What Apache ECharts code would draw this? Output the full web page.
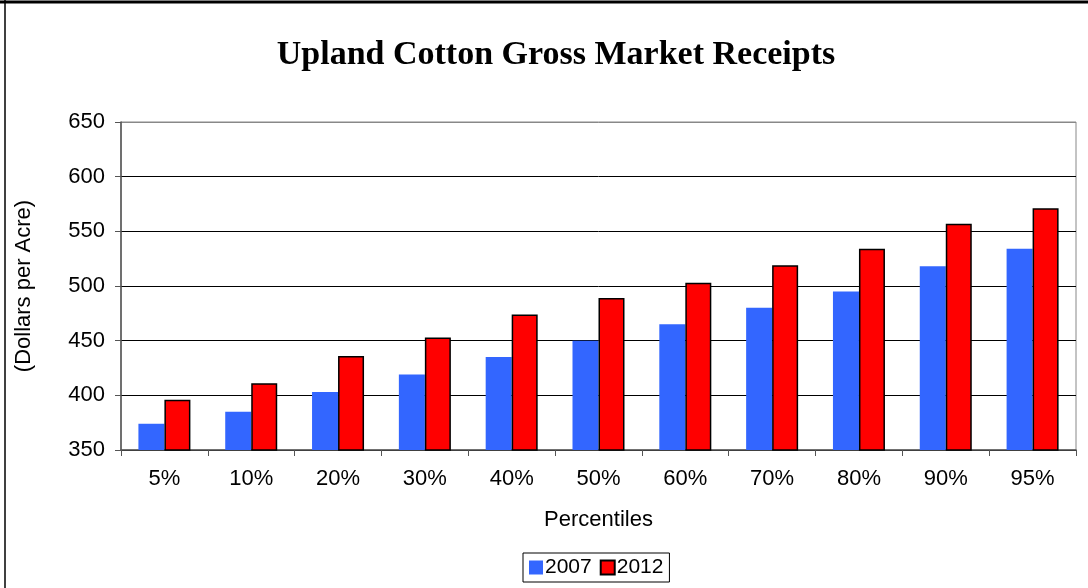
<!DOCTYPE html>
<html>
<head>
<meta charset="utf-8">
<script src="https://cdn.jsdelivr.net/npm/echarts@6/dist/echarts.min.js"></script>
<style>
html,body{margin:0;padding:0;background:#fff;}
#chart{width:1088px;height:588px;}
</style>
</head>
<body>
<div id="chart"></div>
<script>
const categories = ['5%','10%','20%','30%','40%','50%','60%','70%','80%','90%','95%'];
const values2007 = [374, 385, 403, 419, 435, 450, 465, 480, 495, 518, 534];
const values2012 = [396, 411, 436, 453, 474, 489, 503, 519, 534, 557, 571];
const yTicks = { min: 350, max: 650, interval: 50 };

const chart = echarts.init(document.getElementById('chart'), null, {renderer: 'canvas'});
const sans = 'Liberation Sans, Arial, sans-serif';
chart.setOption({
  animation: false,
  backgroundColor: '#fff',
  title: {
    text: 'Upland Cotton Gross Market Receipts',
    left: 551, top: 33, textAlign: 'center',
    textStyle: { fontFamily: 'Liberation Serif, Times New Roman, serif', fontWeight: 'bold', fontSize: 34, color: '#000' }
  },
  graphic: [
    { type: 'line', shape: { x1: 0, y1: 2, x2: 1088, y2: 2 }, style: { stroke: '#000', lineWidth: 3 } },
    { type: 'line', shape: { x1: 5, y1: 0, x2: 5, y2: 588 }, style: { stroke: '#000', lineWidth: 1.5 } }
  ],
  legend: {
    data: ['2007', '2012'],
    left: 523, top: 553,
    orient: 'horizontal',
    itemWidth: 14, itemHeight: 14, itemGap: 8,
    padding: [4, 6, 4, 6],
    borderColor: '#000', borderWidth: 1,
    textStyle: { fontFamily: sans, fontSize: 21, color: '#000', padding: [0, 0, 0, -3] },
    icon: 'rect'
  },
  grid: { left: 121, right: 12, top: 122, bottom: 138, show: true, borderColor: '#888', borderWidth: 1, containLabel: false },
  xAxis: {
    type: 'category',
    data: categories,
    name: 'Percentiles',
    nameLocation: 'middle',
    nameGap: 59,
    nameTextStyle: { fontFamily: sans, fontSize: 22, color: '#000' },
    axisLine: { lineStyle: { color: '#555', width: 1.5 } },
    axisTick: { show: true, length: 6, lineStyle: { color: '#555' } },
    axisLabel: { fontFamily: sans, fontSize: 22, color: '#000', margin: 18 }
  },
  yAxis: {
    type: 'value',
    min: yTicks.min, max: yTicks.max, interval: yTicks.interval,
    name: '(Dollars per Acre)',
    nameLocation: 'middle',
    nameGap: 86,
    nameRotate: 90,
    nameTextStyle: { fontFamily: sans, fontSize: 22, color: '#000' },
    axisLine: { show: true, lineStyle: { color: '#555', width: 1.5 } },
    axisTick: { show: true, length: 6, lineStyle: { color: '#555' } },
    axisLabel: { fontFamily: sans, fontSize: 22, color: '#000', margin: 16 },
    splitLine: { show: true, lineStyle: { color: ['#000','#000','#000','#000','#000','#000','#888'], width: 1 } }
  },
  series: [
    {
      name: '2007', type: 'bar', data: values2007,
      barWidth: 26, barGap: '0%',
      itemStyle: { color: '#3366FF' }
    },
    {
      name: '2012', type: 'bar', data: values2012,
      barWidth: 26,
      itemStyle: { color: '#FF0000', borderColor: '#000', borderWidth: 1.5 }
    }
  ]
});
</script>
</body>
</html>
